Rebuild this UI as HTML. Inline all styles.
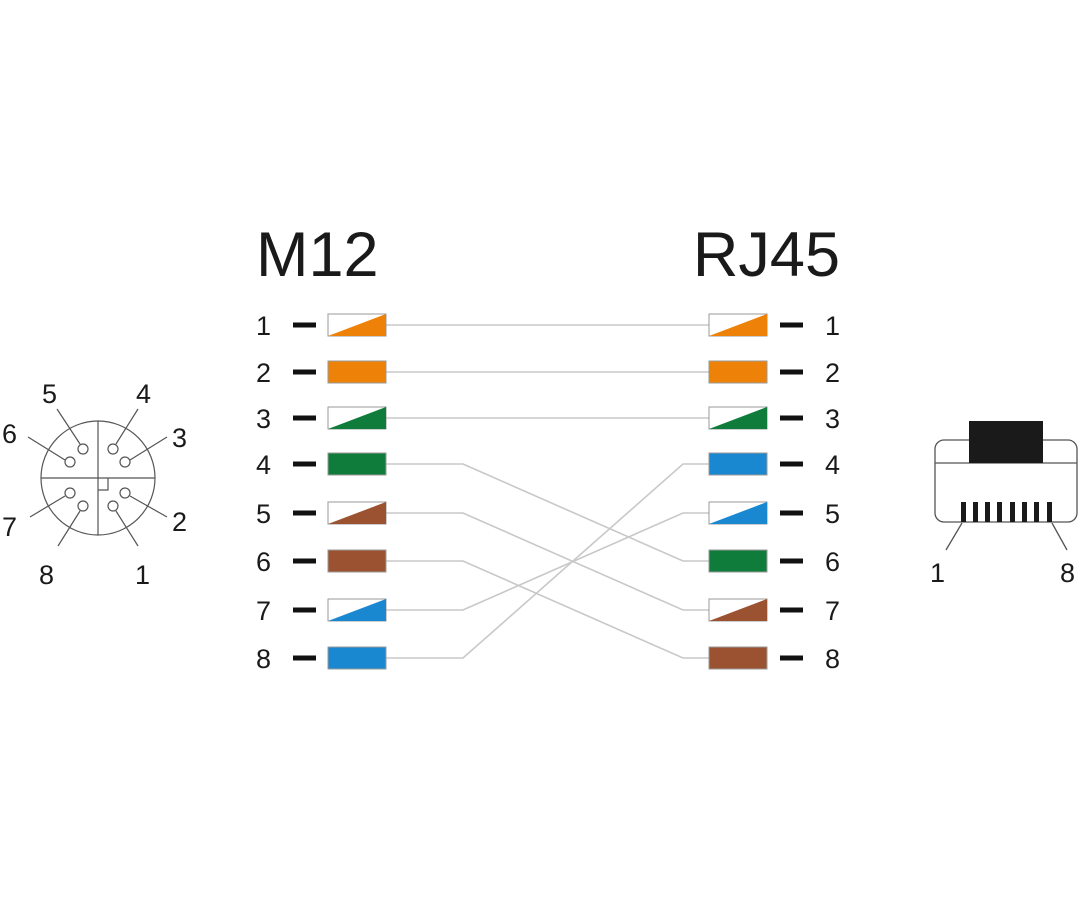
<!DOCTYPE html>
<html><head><meta charset="utf-8"><style>html,body{margin:0;padding:0;background:#fff}svg{display:block}</style></head>
<body>
<svg width="1090" height="900" viewBox="0 0 1090 900" xmlns="http://www.w3.org/2000/svg" font-family="Liberation Sans, Arial, sans-serif" fill="#1a1a1a">
<rect width="1090" height="900" fill="#fff"/>
<g stroke="#555" stroke-width="1.2" fill="none">
<circle cx="98" cy="478" r="57"/>
<line x1="98" y1="421" x2="98" y2="535"/>
<line x1="41" y1="478" x2="155" y2="478"/>
<polyline points="98,490 108,490 108,478"/>
<circle cx="83" cy="449" r="5"/><circle cx="113" cy="449" r="5"/>
<circle cx="70" cy="462" r="5"/><circle cx="125" cy="462" r="5"/>
<circle cx="70" cy="493" r="5"/><circle cx="125" cy="493" r="5"/>
<circle cx="83" cy="506" r="5"/><circle cx="113" cy="506" r="5"/>
<line x1="57" y1="409" x2="80" y2="444"/>
<line x1="138" y1="409" x2="116" y2="444"/>
<line x1="28" y1="437" x2="65" y2="460"/>
<line x1="167" y1="437" x2="130" y2="460"/>
<line x1="30" y1="517" x2="65" y2="496"/>
<line x1="167" y1="517" x2="130" y2="496"/>
<line x1="58" y1="546" x2="80" y2="511"/>
<line x1="138" y1="546" x2="116" y2="511"/>
</g>
<g font-size="27">
<text x="42" y="403">5</text><text x="136" y="403">4</text>
<text x="2" y="443">6</text><text x="172" y="447">3</text>
<text x="2" y="536">7</text><text x="172" y="531">2</text>
<text x="39" y="584">8</text><text x="135" y="584">1</text>
</g>
<text x="256" y="276" font-size="63">M12</text>
<text x="840" y="276" font-size="63" text-anchor="end">RJ45</text>
<g stroke="#c8c8c8" stroke-width="1.6" fill="none">
<line x1="386" y1="325" x2="709" y2="325"/>
<line x1="386" y1="372" x2="709" y2="372"/>
<line x1="386" y1="418" x2="709" y2="418"/>
<polyline points="386,464 463,464 683,561 709,561"/>
<polyline points="386,513 463,513 683,610 709,610"/>
<polyline points="386,561 463,561 683,658 709,658"/>
<polyline points="386,610 463,610 683,513 709,513"/>
<polyline points="386,658 463,658 683,464 709,464"/>
</g>
<defs>
<g id="dash"><rect x="0" y="-2.5" width="23" height="5" fill="#111"/></g>
</defs>
<g font-size="27">
<text x="256" y="335">1</text><text x="256" y="382">2</text><text x="256" y="428">3</text><text x="256" y="474">4</text>
<text x="256" y="523">5</text><text x="256" y="571">6</text><text x="256" y="620">7</text><text x="256" y="668">8</text>
<text x="825" y="335">1</text><text x="825" y="382">2</text><text x="825" y="428">3</text><text x="825" y="474">4</text>
<text x="825" y="523">5</text><text x="825" y="571">6</text><text x="825" y="620">7</text><text x="825" y="668">8</text>
</g>
<g>
<use href="#dash" x="293" y="325"/><use href="#dash" x="293" y="372"/><use href="#dash" x="293" y="418"/><use href="#dash" x="293" y="464"/>
<use href="#dash" x="293" y="513"/><use href="#dash" x="293" y="561"/><use href="#dash" x="293" y="610"/><use href="#dash" x="293" y="658"/>
<use href="#dash" x="780" y="325"/><use href="#dash" x="780" y="372"/><use href="#dash" x="780" y="418"/><use href="#dash" x="780" y="464"/>
<use href="#dash" x="780" y="513"/><use href="#dash" x="780" y="561"/><use href="#dash" x="780" y="610"/><use href="#dash" x="780" y="658"/>
</g>
<g stroke="#999" stroke-width="1">
<rect x="328" y="314" width="58" height="22" fill="#fff"/><polygon points="328,336 386,314 386,336" fill="#ee8208" stroke="none"/>
<rect x="328" y="361" width="58" height="22" fill="#ee8208"/>
<rect x="328" y="407" width="58" height="22" fill="#fff"/><polygon points="328,429 386,407 386,429" fill="#107c3c" stroke="none"/>
<rect x="328" y="453" width="58" height="22" fill="#107c3c"/>
<rect x="328" y="502" width="58" height="22" fill="#fff"/><polygon points="328,524 386,502 386,524" fill="#9a5230" stroke="none"/>
<rect x="328" y="550" width="58" height="22" fill="#9a5230"/>
<rect x="328" y="599" width="58" height="22" fill="#fff"/><polygon points="328,621 386,599 386,621" fill="#1a88d0" stroke="none"/>
<rect x="328" y="647" width="58" height="22" fill="#1a88d0"/>
<rect x="709" y="314" width="58" height="22" fill="#fff"/><polygon points="709,336 767,314 767,336" fill="#ee8208" stroke="none"/>
<rect x="709" y="361" width="58" height="22" fill="#ee8208"/>
<rect x="709" y="407" width="58" height="22" fill="#fff"/><polygon points="709,429 767,407 767,429" fill="#107c3c" stroke="none"/>
<rect x="709" y="453" width="58" height="22" fill="#1a88d0"/>
<rect x="709" y="502" width="58" height="22" fill="#fff"/><polygon points="709,524 767,502 767,524" fill="#1a88d0" stroke="none"/>
<rect x="709" y="550" width="58" height="22" fill="#107c3c"/>
<rect x="709" y="599" width="58" height="22" fill="#fff"/><polygon points="709,621 767,599 767,621" fill="#9a5230" stroke="none"/>
<rect x="709" y="647" width="58" height="22" fill="#9a5230"/>
</g>
<g stroke="#555" stroke-width="1.3" fill="none">
<rect x="935" y="440" width="142" height="82" rx="9"/>
<line x1="935" y1="463" x2="1077" y2="463"/>
<line x1="962" y1="523" x2="946" y2="550"/>
<line x1="1052" y1="523" x2="1067" y2="550"/>
</g>
<rect x="969" y="421" width="74" height="42" fill="#1a1a1a"/>
<g fill="#1a1a1a">
<rect x="961" y="502" width="5" height="20"/><rect x="973" y="502" width="5" height="20"/>
<rect x="985" y="502" width="5" height="20"/><rect x="997" y="502" width="5" height="20"/>
<rect x="1010" y="502" width="5" height="20"/><rect x="1022" y="502" width="5" height="20"/>
<rect x="1034" y="502" width="5" height="20"/><rect x="1047" y="502" width="5" height="20"/>
</g>
<g font-size="27">
<text x="930" y="582">1</text><text x="1060" y="582">8</text>
</g>
</svg>
</body></html>
